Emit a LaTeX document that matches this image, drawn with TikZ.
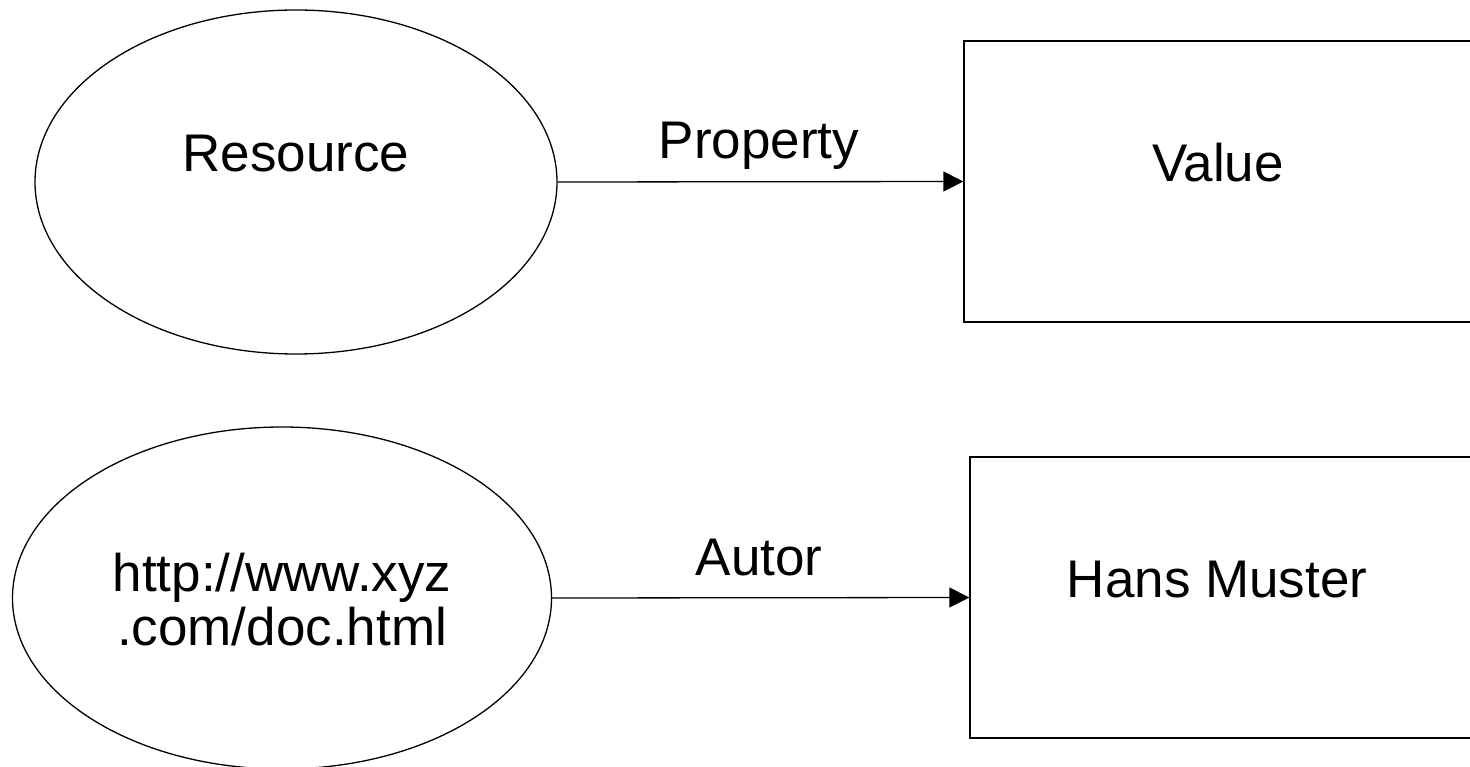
\documentclass[tikz,border=0pt]{standalone}
\usepackage{fontspec}
\setmainfont{Liberation Sans}
\usetikzlibrary{shapes.geometric,arrows.meta}
\begin{document}
\begin{tikzpicture}[x=1pt,y=-1pt,
  shapeline/.style={draw=black,line width=1.3pt},
  res/.style={shapeline,ellipse,inner sep=0pt},
  valbox/.style={shapeline,rectangle,inner sep=0pt},
  txt/.style={font=\fontsize{53}{56}\selectfont,inner sep=0pt,anchor=base},
  conn/.style={line width=1.3pt,-{Triangle[length=20pt,width=20pt]}}]
\useasboundingbox (0,0) rectangle (1470,767);
\clip (0,0) rectangle (1470,767);
\fill[white] (0,0) rectangle (1470,767);
% top row
\node[res,minimum width=522pt,minimum height=344pt] (r1) at (296,182) {};
\node[valbox,minimum width=540pt,minimum height=281pt] (v1) at (1234,181.5) {};
\node[txt] (r1t) at (296,172) {Resource};
\node[txt] (v1t) at (1218,181.5) {Value};
\draw[conn] (r1.east) -- (v1.west);
\node[txt] (p1t) at (759,159) {Property};
% bottom row
\node[res,minimum width=539pt,minimum height=342pt] (r2) at (282,598) {};
\node[valbox,minimum width=540pt,minimum height=281pt] (v2) at (1240,597.5) {};
\node[txt] (r2a) at (282,591) {http://www.xyz};
\node[txt] (r2b) at (282,645) {.com/doc.html};
\node[txt] (v2t) at (1217,597.5) {Hans Muster};
\draw[conn] (r2.east) -- (v2.west);
\node[txt] (p2t) at (759,575) {Autor};
\end{tikzpicture}
\end{document}
